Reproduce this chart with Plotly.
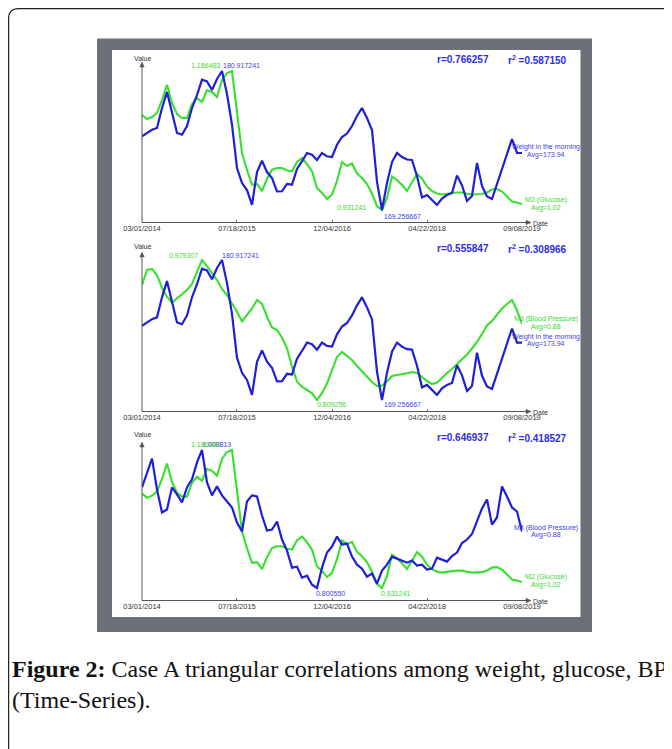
import pandas as pd
import plotly.graph_objects as go

W, H = 672, 749

START, END = "2014-03-01", "2019-09-08"
TICK_DATES = ["2014-03-01", "2015-07-18", "2016-12-04", "2018-04-22", "2019-09-08"]
TICK_TEXT = ["03/01/2014", "07/18/2015", "12/04/2016", "04/22/2018", "09/08/2019"]

# Weight in the morning (smoothed)
weight = [175.44, 175.72, 175.99, 176.14, 177.81, 179.16, 177.56, 175.72, 175.57, 176.30,
          177.81, 178.90, 180.19, 180.05, 179.32, 180.25, 180.917241, 178.99, 176.41, 172.78,
          171.52, 170.93, 169.68, 172.44, 173.39, 172.44, 171.94, 170.81, 170.83, 171.44,
          171.38, 172.70, 173.34, 174.04, 173.90, 173.45, 174.04, 173.76, 173.70, 174.73,
          175.38, 175.67, 176.30, 177.14, 177.81, 176.97, 175.97, 171.61, 169.256667, 171.52,
          173.28, 174.04, 173.70, 173.49, 173.45, 172.11, 170.31, 170.51, 170.10, 169.68,
          170.22, 170.51, 170.68, 172.15, 171.31, 170.01, 170.43, 173.20, 171.27, 170.39,
          170.18, 171.48, 172.65, 174.00, 175.21, 174.04, 174.04]

# M2 (Glucose)
glucose = [1.1057, 1.0983, 1.1020, 1.1094, 1.1332, 1.1613, 1.1277, 1.1075, 1.1002, 1.1002,
           1.1259, 1.1369, 1.1296, 1.1516, 1.1479, 1.1387, 1.1700, 1.1828, 1.186483, 1.1130,
           1.0359, 1.0047, 0.9777, 0.9790, 0.9661, 0.9882, 1.0052, 1.0084, 1.0084, 1.0038,
           1.0023, 1.0194, 1.0267, 1.0157, 1.0023, 0.9716, 0.9625, 0.9514, 0.9593, 0.9845,
           1.0194, 1.0120, 1.0166, 0.9983, 0.9900, 0.9790, 0.9615, 0.9386, 0.931241, 0.9533,
           0.9928, 0.9863, 0.9772, 0.9661, 0.9817, 0.9974, 0.9891, 0.9744, 0.9661, 0.9615,
           0.9597, 0.9615, 0.9625, 0.9634, 0.9634, 0.9612, 0.9597, 0.9601, 0.9606, 0.9634,
           0.9689, 0.9698, 0.9652, 0.9560, 0.9469, 0.9450, 0.9423]

# M3 (Blood Pressure), smoothed (panel 2)
bp_smooth = [0.9489, 0.9672, 0.9684, 0.9611, 0.9453, 0.9347, 0.9277, 0.9328, 0.9386, 0.9429,
             0.9502, 0.9651, 0.979307, 0.9720, 0.9641, 0.9550, 0.9441, 0.9368, 0.9265, 0.9165,
             0.9046, 0.9119, 0.9204, 0.9307, 0.9259, 0.9104, 0.8973, 0.8943, 0.8852, 0.8721,
             0.8499, 0.8315, 0.8254, 0.8214, 0.8174, 0.809256, 0.8178, 0.8293, 0.8445, 0.8615,
             0.8676, 0.8621, 0.8578, 0.8506, 0.8439, 0.8372, 0.8311, 0.8263, 0.8269, 0.8317,
             0.8384, 0.8396, 0.8402, 0.8417, 0.8433, 0.8421, 0.8372, 0.8323, 0.8287, 0.8305,
             0.8360, 0.8421, 0.8469, 0.8524, 0.8585, 0.8645, 0.8718, 0.8797, 0.8894, 0.8998,
             0.9052, 0.9125, 0.9204, 0.9259, 0.9307, 0.9180, 0.9016]

# M3 (Blood Pressure), less smoothed (panel 3)
bp_raw = [0.9524, 0.9751, 0.9960, 0.9493, 0.9145, 0.9191, 0.9524, 0.9418, 0.9297, 0.9524,
          0.9645, 0.9902, 1.008813, 0.9599, 0.9403, 0.9539, 0.9403, 0.9312, 0.9221, 0.8994,
          0.8858, 0.9312, 0.9403, 0.9387, 0.9100, 0.8873, 0.8888, 0.9009, 0.8737, 0.8570,
          0.8313, 0.8328, 0.8161, 0.8192, 0.8055, 0.800550, 0.8313, 0.8540, 0.8631, 0.8782,
          0.8661, 0.8676, 0.8479, 0.8358, 0.8298, 0.8177, 0.8222, 0.8071, 0.8267, 0.8358,
          0.8479, 0.8449, 0.8419, 0.8388, 0.8419, 0.8343, 0.8358, 0.8283, 0.8298, 0.8464,
          0.8434, 0.8404, 0.8487, 0.8540, 0.8684, 0.8737, 0.8820, 0.9009, 0.9206, 0.9342,
          0.8964, 0.9070, 0.9539, 0.9387, 0.9221, 0.9160, 0.8858]

dates = pd.date_range(START, END, periods=len(weight))

FONT = "Liberation Sans, Arial, sans-serif"
SERIF = "Liberation Serif, Times New Roman, serif"
BLUE = "#1f1fd6"
GREEN = "#38e02e"
BLUE_TXT = "#4040e4"
GREEN_TXT = "#3ad830"
AXIS = "#555"

OFF = 8  # page body margin


def px(X):
    return (X - OFF) / W


def py(Y):
    return 1 - (Y - OFF) / H


panels = [
    dict(blue=weight, green=glucose,
         blue_lbl=("Weight in the morning", "Avg=173.94"), green_lbl=("M2 (Glucose)", "Avg=1.02"),
         r="0.766257", r2="0.587150", geom=(63, 71, 210, 222.5), rY=60, valY=58,
         bmax=("left", -1, 5), gmax=("right", -10, 5), bmin=("left", 0, -6), gmin=("right", -14, 3),
         bend=2, gend=0),
    dict(blue=weight, green=bp_smooth,
         blue_lbl=("Weight in the morning", "Avg=173.94"), green_lbl=("M3 (Blood Pressure)", "Avg=0.88"),
         r="0.555847", r2="0.308966", geom=(253, 260, 400, 411.5), rY=249, valY=246.5,
         bmax=("left", -2, 4), gmax=("right", -2, 4), bmin=("left", 0, -5), gmin=("left", -2, -5),
         bend=2, gend=1),
    dict(blue=bp_raw, green=glucose,
         blue_lbl=("M3 (Blood Pressure)", "Avg=0.88"), green_lbl=("M2 (Glucose)", "Avg=1.02"),
         r="0.646937", r2="0.418527", geom=(443, 450, 588, 600.5), rY=437.5, valY=435,
         bmax=("left", -2, 6), gmax=("right", -10, 6), bmin=("left", -3, -5), gmin=("left", -3, -5),
         bend=0, gend=1),
]

fig = go.Figure()
annotations = []
layout_axes = {}

r0 = 10
border = (f"M {px(8.6)},{py(H + OFF)} L {px(8.6)},{py(8.6 + r0)} "
          f"Q {px(8.6)},{py(8.6)} {px(8.6 + r0)},{py(8.6)} L {px(W + OFF)},{py(8.6)}")
shapes = [
    dict(type="path", path=border, xref="paper", yref="paper", line=dict(color="#222", width=1.2),
         layer="below"),
    dict(type="rect", xref="paper", yref="paper", x0=px(97), x1=px(592), y0=py(632), y1=py(38.5),
         fillcolor="#6d7079", line=dict(width=0), layer="below"),
    dict(type="rect", xref="paper", yref="paper", x0=px(112), x1=px(580.5), y0=py(617), y1=py(50),
         fillcolor="#ffffff", line=dict(width=0), layer="below"),
]


def rng(vals, geom):
    top, dtop, dbot, bot = geom
    lo, hi = min(vals), max(vals)
    k = (hi - lo) / (dbot - dtop)
    return [lo - (bot - dbot) * k, hi + (dtop - top) * k]


def lab(xv, yv, text, color, xref, yref, xanchor, xshift, yshift, size=7):
    return dict(x=xv, y=yv, xref=xref, yref=yref, text=text, showarrow=False,
                xanchor=xanchor, yanchor="middle", xshift=xshift, yshift=yshift,
                font=dict(size=size, color=color, family=FONT))


for i, p in enumerate(panels, start=1):
    xid = "x" if i == 1 else f"x{i}"
    gid_n, bid_n = 2 * i - 1, 2 * i
    gid = "y" if gid_n == 1 else f"y{gid_n}"
    bid = f"y{bid_n}"
    top, dtop, dbot, bot = p["geom"]

    layout_axes["xaxis" if i == 1 else f"xaxis{i}"] = dict(
        domain=[px(142), px(522)], range=[START, END], type="date", anchor=gid,
        tickvals=TICK_DATES, ticktext=TICK_TEXT, ticks="inside", ticklen=3, tickcolor="#777",
        tickwidth=1, tickfont=dict(size=7.5, color="#333", family=FONT),
        showgrid=False, zeroline=False, showline=False)
    layout_axes["yaxis" if gid_n == 1 else f"yaxis{gid_n}"] = dict(
        domain=[py(bot), py(top)], range=rng(p["green"], p["geom"]), anchor=xid, visible=False)
    layout_axes[f"yaxis{bid_n}"] = dict(
        range=rng(p["blue"], p["geom"]), overlaying=gid, anchor=xid, visible=False)

    fig.add_trace(go.Scatter(x=dates, y=p["green"], mode="lines", xaxis=xid, yaxis=gid,
                             line=dict(color=GREEN, width=2.1), showlegend=False))
    fig.add_trace(go.Scatter(x=dates, y=p["blue"], mode="lines", xaxis=xid, yaxis=bid,
                             line=dict(color=BLUE, width=2.2), showlegend=False))

    # max / min labels
    for key, series, yref, col in (("b", p["blue"], bid, BLUE_TXT), ("g", p["green"], gid, GREEN_TXT)):
        imax = series.index(max(series))
        imin = series.index(min(series))
        a, xs, ys = p[key + "max"]
        annotations.append(lab(dates[imax], series[imax], f"{series[imax]:.6f}", col, xid, yref, a, xs, ys))
        a, xs, ys = p[key + "min"]
        annotations.append(lab(dates[imin], series[imin], f"{series[imin]:.6f}", col, xid, yref, a, xs, ys))

    # end labels (series name + average), centred right of the last point
    for series, yref, col, lines, sh in ((p["blue"], bid, BLUE_TXT, p["blue_lbl"], p["bend"]),
                                         (p["green"], gid, GREEN_TXT, p["green_lbl"], p["gend"])):
        for txt, dy in zip(lines, (3.7, -3.7)):
            annotations.append(lab(dates[-1], series[-1], txt, col, xid, yref, "center", 24, sh + dy))

    # r and r^2
    annotations.append(dict(x=px(435), y=py(p["rY"]), xref="paper", yref="paper",
                            text=f"<b>r={p['r']}</b>", showarrow=False, xanchor="left", yanchor="middle",
                            font=dict(size=10, color="#2e2ee0", family=FONT)))
    annotations.append(dict(x=px(506), y=py(p["rY"]), xref="paper", yref="paper",
                            text=f"<b>r<sup>2</sup> ={p['r2']}</b>", showarrow=False,
                            xanchor="left", yanchor="middle",
                            font=dict(size=10, color="#2e2ee0", family=FONT)))

    # axis lines with arrowheads
    shapes.append(dict(type="line", xref="paper", yref="paper", x0=px(142), x1=px(527),
                       y0=py(bot), y1=py(bot), line=dict(color=AXIS, width=1)))
    shapes.append(dict(type="line", xref="paper", yref="paper", x0=px(142), x1=px(142),
                       y0=py(bot), y1=py(top + 3), line=dict(color=AXIS, width=1)))
    shapes.append(dict(type="path", xref="paper", yref="paper",
                       path=(f"M {px(526)},{py(bot - 2.2)} L {px(531)},{py(bot)} "
                             f"L {px(526)},{py(bot + 2.2)} Z"),
                       fillcolor=AXIS, line=dict(color=AXIS, width=0.5)))
    shapes.append(dict(type="path", xref="paper", yref="paper",
                       path=(f"M {px(139.8)},{py(top + 4)} L {px(142)},{py(top - 1)} "
                             f"L {px(144.2)},{py(top + 4)} Z"),
                       fillcolor=AXIS, line=dict(color=AXIS, width=0.5)))

    annotations.append(dict(x=px(142), y=py(p["valY"]), xref="paper", yref="paper", text="Value",
                            showarrow=False, xanchor="center", yanchor="middle",
                            font=dict(size=7, color="#333", family=FONT)))
    annotations.append(dict(x=px(531), y=py(bot + 1), xref="paper", yref="paper", text="Date",
                            showarrow=False, xanchor="left", yanchor="middle",
                            font=dict(size=7, color="#333", family=FONT)))

# caption
annotations.append(dict(x=px(10), y=py(669), xref="paper", yref="paper",
                        text="<b>Figure 2:</b> Case A triangular correlations among weight, glucose, BP",
                        showarrow=False, xanchor="left", yanchor="middle",
                        font=dict(size=24, color="#111", family=SERIF)))
annotations.append(dict(x=px(10), y=py(700), xref="paper", yref="paper",
                        text="(Time-Series).",
                        showarrow=False, xanchor="left", yanchor="middle",
                        font=dict(size=24, color="#111", family=SERIF)))

fig.update_layout(width=W, height=H,
                  margin=dict(l=0, r=0, t=0, b=0, pad=0, autoexpand=False),
                  paper_bgcolor="white", plot_bgcolor="rgba(0,0,0,0)",
                  showlegend=False, annotations=annotations, shapes=shapes, **layout_axes)

fig.write_html("out.html")
